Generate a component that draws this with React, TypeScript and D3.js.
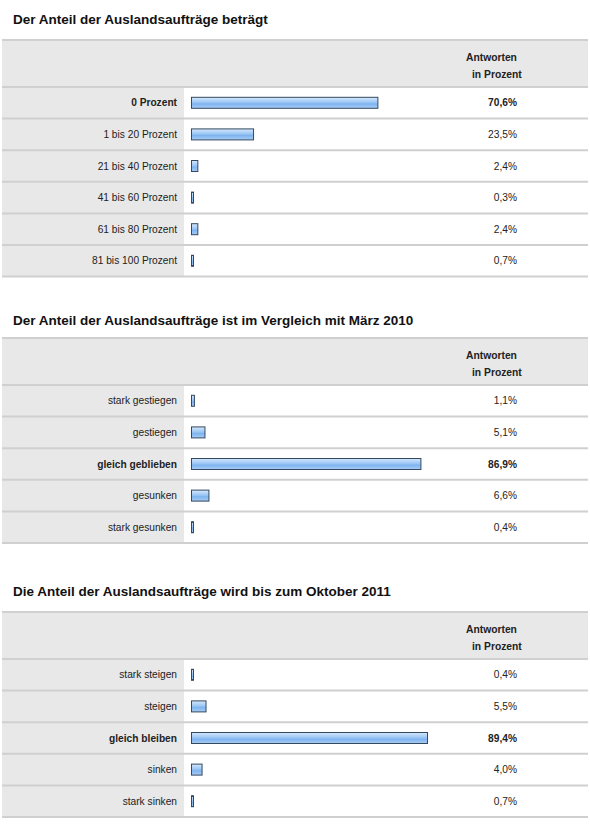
import { useEffect, useRef } from 'react';
import * as d3 from 'd3';

// Survey answers, three questions
const titles = [
  'Der Anteil der Auslandsaufträge beträgt',
  'Der Anteil der Auslandsaufträge ist im Vergleich mit März 2010',
  'Die Anteil der Auslandsaufträge wird bis zum Oktober 2011',
];

const categories1 = ['0 Prozent', '1 bis 20 Prozent', '21 bis 40 Prozent', '41 bis 60 Prozent', '61 bis 80 Prozent', '81 bis 100 Prozent'];
const values1 = [70.6, 23.5, 2.4, 0.3, 2.4, 0.7];

const categories2 = ['stark gestiegen', 'gestiegen', 'gleich geblieben', 'gesunken', 'stark gesunken'];
const values2 = [1.1, 5.1, 86.9, 6.6, 0.4];

const categories3 = ['stark steigen', 'steigen', 'gleich bleiben', 'sinken', 'stark sinken'];
const values3 = [0.4, 5.5, 89.4, 4.0, 0.7];

const headerLines = ['Antworten', 'in Prozent'];

export default function App() {
  const svgRef = useRef<SVGSVGElement>(null);
  const width = 590;
  const height = 830;

  useEffect(() => {
    if (!svgRef.current) return;
    const svg = d3.select(svgRef.current);
    svg.selectAll('*').remove();

    // layout: title position and table top of each block
    const sections = [
      { title: titles[0], cats: categories1, vals: values1, titleY: 19, top: 40 },
      { title: titles[1], cats: categories2, vals: values2, titleY: 320, top: 338 },
      { title: titles[2], cats: categories3, vals: values3, titleY: 591, top: 612 },
    ];

    const font = '"Liberation Sans", Arial, Helvetica, sans-serif';
    const de = d3.formatLocale({ decimal: ',', thousands: '.', grouping: [3], currency: ['', ' €'] });
    const fmt = de.format('.1f');

    const tableLeft = 2;
    const tableRight = 588;
    const labelColRight = 184;
    const barLeft = 191;
    const valueRight = 517;
    const headerH = 47;
    const rowH = 31.6;

    // 100 % -> 264 px
    const x = d3.scaleLinear().domain([0, 100]).range([0, 264]);

    const defs = svg.append('defs');
    const grad = defs.append('linearGradient')
      .attr('id', 'bar-grad')
      .attr('x1', '0%').attr('y1', '0%').attr('x2', '0%').attr('y2', '100%');
    grad.append('stop').attr('offset', '0%').attr('stop-color', '#d6e8fc');
    grad.append('stop').attr('offset', '45%').attr('stop-color', '#9cc7f5');
    grad.append('stop').attr('offset', '60%').attr('stop-color', '#7fb4ef');
    grad.append('stop').attr('offset', '100%').attr('stop-color', '#a9cdf6');

    svg.append('rect').attr('width', width).attr('height', height).attr('fill', '#ffffff');

    sections.forEach((sec, si) => {
      const g = svg.append('g').attr('class', `section-${si}`);

      // Title
      g.append('text')
        .attr('x', 13)
        .attr('y', sec.titleY)
        .attr('dy', '0.35em')
        .style('font-family', font)
        .style('font-size', '13.5px')
        .style('font-weight', 'bold')
        .attr('fill', '#111')
        .text(sec.title);

      const top = sec.top;
      const rowsTop = top + headerH;
      const maxVal = d3.max(sec.vals) || 0;

      // Header row
      g.append('rect')
        .attr('x', tableLeft).attr('y', top)
        .attr('width', tableRight - tableLeft).attr('height', headerH)
        .attr('fill', '#e8e8e8');

      g.append('text')
        .attr('x', 466).attr('y', top + 17).attr('dy', '0.35em')
        .style('font-family', font).style('font-size', '10.3px').style('font-weight', 'bold')
        .attr('fill', '#222')
        .text(headerLines[0]);
      g.append('text')
        .attr('x', 472).attr('y', top + 34).attr('dy', '0.35em')
        .style('font-family', font).style('font-size', '10.3px').style('font-weight', 'bold')
        .attr('fill', '#222')
        .text(headerLines[1]);

      const yBand = d3.scaleBand<number>()
        .domain(d3.range(sec.cats.length))
        .range([rowsTop, rowsTop + rowH * sec.cats.length]);

      const rows = g.selectAll('.row')
        .data(sec.cats.map((c, i) => ({ c, v: sec.vals[i], i })))
        .enter()
        .append('g')
        .attr('class', 'row');

      rows.append('rect')
        .attr('x', tableLeft)
        .attr('y', d => yBand(d.i)!)
        .attr('width', labelColRight - tableLeft)
        .attr('height', yBand.bandwidth())
        .attr('fill', '#e8e8e8');

      rows.append('text')
        .attr('x', 177)
        .attr('y', d => yBand(d.i)! + yBand.bandwidth() / 2)
        .attr('dy', '0.35em')
        .attr('text-anchor', 'end')
        .style('font-family', font)
        .style('font-size', '10.2px')
        .style('font-weight', d => (d.v === maxVal ? 'bold' : 'normal'))
        .attr('fill', '#222')
        .text(d => d.c);

      const barH = 12;
      rows.append('rect')
        .attr('x', barLeft + 0.5)
        .attr('y', d => yBand(d.i)! + yBand.bandwidth() / 2 - barH / 2 + 0.5)
        .attr('width', d => Math.max(x(d.v), 2))
        .attr('height', barH - 1)
        .attr('fill', 'url(#bar-grad)')
        .attr('stroke', '#34495f')
        .attr('stroke-width', 1);

      rows.append('text')
        .attr('x', valueRight)
        .attr('y', d => yBand(d.i)! + yBand.bandwidth() / 2)
        .attr('dy', '0.35em')
        .attr('text-anchor', 'end')
        .style('font-family', font)
        .style('font-size', '10.2px')
        .style('font-weight', d => (d.v === maxVal ? 'bold' : 'normal'))
        .attr('fill', '#222')
        .text(d => `${fmt(d.v)}%`);

      // Row separators
      const lines = [top, ...d3.range(sec.cats.length + 1).map(i => rowsTop + i * rowH)];
      g.selectAll('.sep')
        .data(lines)
        .enter()
        .append('line')
        .attr('x1', tableLeft).attr('x2', tableRight)
        .attr('y1', d => d).attr('y2', d => d)
        .attr('stroke', '#d0d0d0')
        .attr('stroke-width', 2);
    });
  }, []);

  return (
    <svg
      ref={svgRef}
      width={width}
      height={height}
      style={{ position: 'absolute', left: 0, top: 0, display: 'block' }}
    />
  );
}
